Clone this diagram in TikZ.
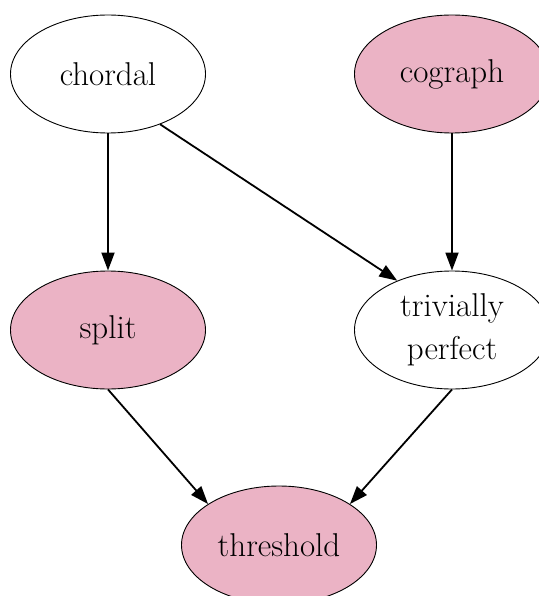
\documentclass[tikz,border=0pt]{standalone}
\usepackage{fontspec}
\usepackage{xcolor}
\usepackage{tikz}
\usetikzlibrary{arrows.meta,shapes.geometric}

\definecolor{nodepink}{RGB}{235,179,197}

\begin{document}
\begin{tikzpicture}[x=1pt, y=-1pt, line join=round,
  cls/.style={ellipse, draw, line width=0.9pt, minimum width=195pt, minimum height=118pt,
    inner sep=0pt, align=center, font=\fontsize{33}{43}\selectfont},
  hered/.style={cls, fill=nodepink},
  edge/.style={line width=1.8pt, -{Triangle[length=18pt, width=13pt]}}]

  % page size
  \useasboundingbox (0,0) rectangle (538,596);

  % classes
  \node[cls]   (chordal)   at (108,74)  {chordal};
  \node[hered] (cograph)   at (452,74)  {cograph};
  \node[hered] (split)     at (108,330) {split};
  \node[cls]   (trivperf)  at (452,330) {trivially\\perfect};
  \node[hered] (threshold) at (279,545) {threshold};

  % inclusions
  \draw[edge] (chordal.south) -- (split.north);
  \draw[edge] (chordal.-44) -- (trivperf.138);
  \draw[edge] (cograph.south) -- (trivperf.north);
  \draw[edge] (split.south) -- (threshold.150);
  \draw[edge] (trivperf.south) -- (threshold.30);

\end{tikzpicture}
\end{document}
